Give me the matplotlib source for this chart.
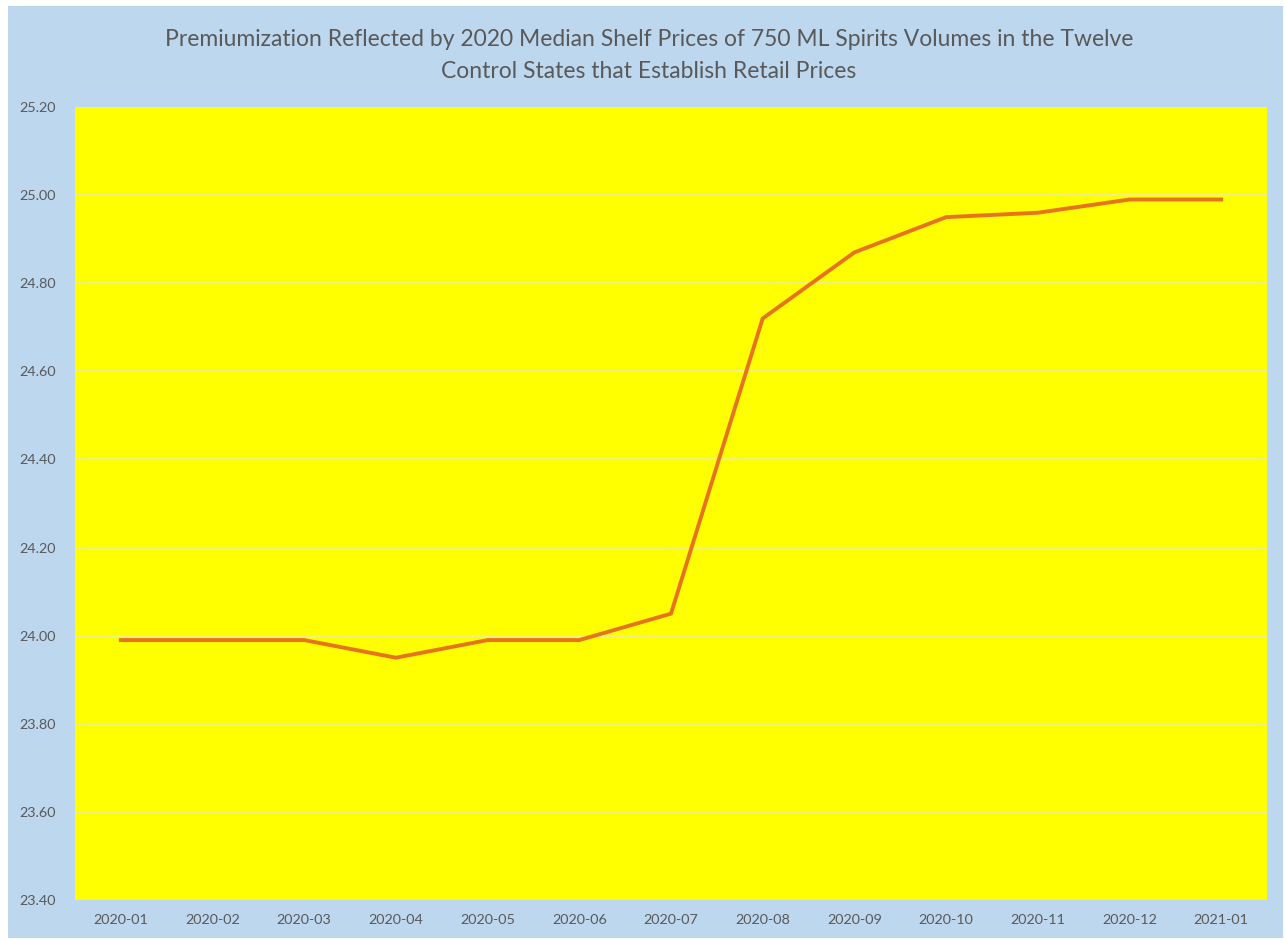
import matplotlib
matplotlib.use("Agg")
import matplotlib.pyplot as plt
from matplotlib.patches import Rectangle

months = ["2020-01", "2020-02", "2020-03", "2020-04", "2020-05", "2020-06", "2020-07",
          "2020-08", "2020-09", "2020-10", "2020-11", "2020-12", "2021-01"]
prices = [23.99, 23.99, 23.99, 23.95, 23.99, 23.99, 24.05,
          24.72, 24.87, 24.95, 24.96, 24.99, 24.99]
yticks = [23.40, 23.60, 23.80, 24.00, 24.20, 24.40, 24.60, 24.80, 25.00, 25.20]

plt.rcParams['font.family'] = ['Lato', 'DejaVu Sans']

fig = plt.figure(figsize=(12.85, 9.4), dpi=100)
fig.patch.set_facecolor("white")
# light blue chart area, with a thin white border top/left
fig.patches.append(Rectangle((8 / 1285, 2 / 940), 1275 / 1285, 932 / 940,
                             transform=fig.transFigure, facecolor="#BDD7EE",
                             edgecolor="none", zorder=-10))

ax = fig.add_axes([75 / 1285, 1 - 900 / 940, 1192 / 1285, 793 / 940])
ax.set_facecolor("#FFFF00")

x = list(range(len(months)))
ax.plot(x, prices, color="#E8731E", linewidth=2.8, solid_joinstyle="miter", zorder=3)

ax.set_xlim(-0.5, len(months) - 0.5)
ax.set_ylim(23.40, 25.20)
ax.set_yticks(yticks)
ax.set_yticklabels(["%.2f" % v for v in yticks])
ax.set_xticks(x)
ax.set_xticklabels(months)
ax.tick_params(axis="both", length=0, labelsize=10.4, labelcolor="#595959")
ax.tick_params(axis="x", pad=10)
ax.tick_params(axis="y", pad=14)
ax.grid(axis="y", color="#F0F080", linewidth=1.5, zorder=1)
for s in ax.spines.values():
    s.set_visible(False)

fig.text(0.505, 1 - 40 / 940, "Premiumization Reflected by 2020 Median Shelf Prices of 750 ML Spirits Volumes in the Twelve",
         ha="center", va="center", fontsize=16.5, color="#595959")
fig.text(0.505, 1 - 71 / 940, "Control States that Establish Retail Prices",
         ha="center", va="center", fontsize=16.5, color="#595959")

fig.savefig("out.png", dpi=100, facecolor=fig.get_facecolor())
